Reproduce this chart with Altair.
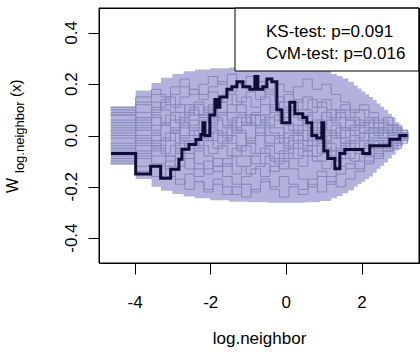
import altair as alt
import pandas as pd

# ---- envelope of the simulated processes (step function) ----
BAND_X = [-4.63, -3.97, -3.55, -3.3, -3.0, -2.7, -2.4, -2.0, -1.5, -1.0, -0.5, 0.0,
          0.5, 0.9, 1.2, 1.35, 1.5, 1.65, 1.8, 1.9, 2.0, 2.1, 2.2, 2.3, 2.4, 2.5,
          2.6, 2.7, 2.8, 2.9, 3.0, 3.1, 3.22]
BAND_HI = [0.113, 0.175, 0.205, 0.225, 0.24, 0.25, 0.257, 0.262, 0.265, 0.266, 0.266, 0.266,
           0.262, 0.252, 0.24, 0.232, 0.222, 0.21, 0.195, 0.183, 0.172, 0.161, 0.15, 0.138, 0.125, 0.112,
           0.10, 0.085, 0.07, 0.052, 0.035, 0.015, 0.0]
BAND_LO = [-0.113, -0.17, -0.20, -0.215, -0.228, -0.238, -0.245, -0.252, -0.258, -0.26, -0.262, -0.262,
           -0.26, -0.255, -0.245, -0.236, -0.225, -0.213, -0.20, -0.19, -0.18, -0.17, -0.16, -0.145, -0.13, -0.118,
           -0.105, -0.09, -0.075, -0.058, -0.04, -0.02, 0.0]

# ---- simulated cumulative residual processes (two jump grids) ----
SIM_X_A = [-4.63, -3.97, -3.55, -3.3, -3.05, -2.8, -2.55, -2.3, -2.05, -1.8, -1.55, -1.3,
           -1.05, -0.8, -0.55, -0.3, -0.05, 0.2, 0.45, 0.7, 0.95, 1.2, 1.45, 1.7, 1.95,
           2.2, 2.45, 2.7, 2.95, 3.22]
SIM_X_B = [-4.63, -3.97, -3.55, -3.18, -2.92, -2.67, -2.42, -2.17, -1.92, -1.67, -1.42, -1.17,
           -0.92, -0.67, -0.42, -0.17, 0.08, 0.33, 0.58, 0.83, 1.08, 1.33, 1.58, 1.83, 2.08,
           2.33, 2.58, 2.83, 3.05, 3.22]
SIM_PATHS = [
    [0.08, 0.12, 0.10, 0.14, 0.11, 0.15, 0.18, 0.16, 0.19, 0.21, 0.17, 0.20, 0.23, 0.19, 0.16, 0.20, 0.17, 0.13, 0.15, 0.11, 0.14, 0.10, 0.12, 0.09, 0.10, 0.07, 0.05, 0.04, 0.02, 0.0],
    [-0.09, -0.14, -0.12, -0.16, -0.19, -0.15, -0.18, -0.21, -0.17, -0.20, -0.23, -0.19, -0.22, -0.18, -0.20, -0.16, -0.19, -0.21, -0.17, -0.14, -0.16, -0.12, -0.13, -0.10, -0.08, -0.09, -0.06, -0.04, -0.02, 0.0],
    [0.03, 0.06, 0.02, 0.05, 0.09, 0.06, 0.10, 0.07, 0.04, 0.08, 0.12, 0.09, 0.05, 0.08, 0.03, 0.06, 0.10, 0.07, 0.02, 0.05, 0.01, 0.04, -0.01, 0.02, 0.05, 0.03, 0.01, 0.02, 0.01, 0.0],
    [-0.03, -0.01, -0.05, -0.02, -0.06, -0.09, -0.05, -0.08, -0.12, -0.09, -0.05, -0.08, -0.11, -0.07, -0.10, -0.13, -0.09, -0.12, -0.08, -0.10, -0.06, -0.09, -0.05, -0.07, -0.04, -0.06, -0.03, -0.02, -0.01, 0.0],
    [0.06, 0.03, 0.07, 0.04, 0.01, 0.05, 0.02, -0.02, 0.01, -0.03, 0.00, -0.04, -0.01, 0.03, 0.00, -0.03, 0.01, 0.04, 0.08, 0.05, 0.09, 0.06, 0.10, 0.07, 0.04, 0.06, 0.03, 0.01, 0.00, 0.0],
    [-0.06, -0.09, -0.06, -0.10, -0.07, -0.03, -0.06, -0.02, 0.02, -0.01, 0.03, 0.07, 0.04, 0.08, 0.12, 0.09, 0.13, 0.10, 0.14, 0.11, 0.07, 0.10, 0.06, 0.04, 0.06, 0.03, 0.04, 0.02, 0.01, 0.0],
    [0.10, 0.15, 0.18, 0.15, 0.19, 0.22, 0.18, 0.14, 0.17, 0.13, 0.09, 0.12, 0.08, 0.04, 0.07, 0.03, -0.01, 0.02, -0.02, 0.01, -0.03, 0.00, -0.04, -0.02, 0.01, -0.01, 0.01, 0.00, -0.01, 0.0],
    [-0.11, -0.07, -0.11, -0.08, -0.12, -0.09, -0.13, -0.10, -0.14, -0.11, -0.15, -0.12, -0.08, -0.05, -0.09, -0.06, -0.02, -0.05, -0.01, -0.04, -0.08, -0.05, -0.09, -0.06, -0.08, -0.05, -0.06, -0.03, -0.02, 0.0],
    [0.01, -0.03, 0.01, -0.02, 0.02, -0.01, 0.03, 0.06, 0.10, 0.13, 0.16, 0.13, 0.17, 0.14, 0.18, 0.15, 0.11, 0.14, 0.10, 0.06, 0.09, 0.05, 0.02, 0.04, 0.01, 0.03, 0.02, 0.01, 0.00, 0.0],
    [-0.05, -0.02, -0.08, -0.12, -0.09, -0.13, -0.16, -0.13, -0.09, -0.12, -0.08, -0.04, -0.07, -0.11, -0.14, -0.10, -0.13, -0.17, -0.20, -0.16, -0.19, -0.15, -0.11, -0.13, -0.10, -0.07, -0.05, -0.03, -0.01, 0.0],
    [0.05, 0.09, 0.13, 0.10, 0.06, 0.03, 0.06, 0.02, -0.02, 0.01, -0.03, -0.06, -0.03, -0.07, -0.04, 0.00, 0.04, 0.01, 0.05, 0.02, -0.02, 0.01, -0.03, 0.00, -0.02, 0.01, -0.01, 0.01, 0.00, 0.0],
    [-0.01, 0.02, -0.02, 0.01, -0.03, -0.07, -0.11, -0.15, -0.12, -0.16, -0.19, -0.16, -0.13, -0.16, -0.12, -0.09, -0.05, -0.08, -0.04, -0.07, -0.03, -0.06, -0.02, -0.05, -0.03, -0.02, -0.04, -0.02, -0.01, 0.0],
    [0.08, 0.05, 0.09, 0.13, 0.16, 0.19, 0.16, 0.20, 0.23, 0.20, 0.24, 0.21, 0.18, 0.21, 0.17, 0.13, 0.16, 0.19, 0.22, 0.18, 0.20, 0.16, 0.13, 0.10, 0.12, 0.09, 0.06, 0.04, 0.02, 0.0],
    [-0.08, -0.12, -0.16, -0.13, -0.17, -0.21, -0.18, -0.22, -0.19, -0.23, -0.20, -0.24, -0.21, -0.17, -0.21, -0.24, -0.20, -0.23, -0.19, -0.22, -0.18, -0.20, -0.17, -0.14, -0.11, -0.08, -0.06, -0.05, -0.03, 0.0],
    [0.00, 0.04, 0.08, 0.05, 0.02, -0.02, -0.05, -0.01, 0.03, 0.00, 0.04, 0.01, -0.03, 0.00, 0.04, 0.08, 0.05, 0.01, -0.02, 0.01, -0.03, -0.06, -0.03, -0.05, -0.02, -0.04, -0.02, -0.01, 0.00, 0.0],
    [0.11, 0.07, 0.04, 0.08, 0.05, 0.09, 0.13, 0.10, 0.06, 0.03, 0.07, 0.04, 0.08, 0.12, 0.09, 0.05, 0.02, -0.02, 0.01, -0.03, 0.00, 0.03, 0.06, 0.03, 0.05, 0.02, 0.03, 0.01, 0.01, 0.0],
    [-0.10, -0.06, -0.03, -0.07, -0.04, 0.00, 0.04, 0.08, 0.05, 0.09, 0.06, 0.02, -0.02, 0.01, -0.03, -0.07, -0.04, 0.00, -0.04, -0.08, -0.05, -0.09, -0.06, -0.03, -0.05, -0.02, -0.04, -0.02, -0.01, 0.0],
    [0.04, 0.00, -0.04, -0.08, -0.05, -0.02, 0.02, -0.01, -0.05, -0.02, 0.02, 0.05, 0.09, 0.06, 0.10, 0.13, 0.10, 0.06, 0.09, 0.13, 0.10, 0.07, 0.03, 0.06, 0.03, 0.05, 0.02, 0.03, 0.01, 0.0],
    [-0.04, -0.08, -0.04, -0.01, 0.03, 0.07, 0.11, 0.08, 0.12, 0.09, 0.05, 0.08, 0.04, 0.00, -0.04, -0.01, -0.05, -0.09, -0.06, -0.10, -0.13, -0.10, -0.07, -0.10, -0.07, -0.05, -0.03, -0.04, -0.02, 0.0],
    [0.02, 0.07, 0.11, 0.15, 0.12, 0.08, 0.12, 0.09, 0.13, 0.16, 0.12, 0.15, 0.11, 0.15, 0.11, 0.07, 0.10, 0.06, 0.03, 0.06, 0.02, -0.01, 0.02, -0.01, 0.02, 0.00, 0.02, 0.00, 0.00, 0.0],
    [-0.07, -0.04, 0.00, 0.04, 0.01, 0.04, 0.00, -0.04, -0.07, -0.04, -0.08, -0.12, -0.15, -0.12, -0.08, -0.11, -0.07, -0.03, -0.06, -0.02, 0.02, -0.01, 0.03, 0.00, -0.02, 0.01, -0.01, 0.00, -0.01, 0.0],
    [0.09, 0.13, 0.16, 0.12, 0.09, 0.12, 0.08, 0.11, 0.07, 0.04, 0.01, 0.04, 0.08, 0.05, 0.01, -0.03, 0.00, 0.04, 0.00, 0.03, 0.06, 0.09, 0.07, 0.10, 0.07, 0.05, 0.07, 0.04, 0.02, 0.0],
]

# ---- observed cumulative residual process ----
OBS_X = [-4.62, -3.97, -3.575, -3.31, -3.046, -2.827, -2.748, -2.563, -2.378, -2.246, -2.193,
         -2.14, -2.008, -1.876, -1.797, -1.744, -1.559, -1.427, -1.295, -1.136, -0.951, -0.819,
         -0.74, -0.608, -0.502, -0.37, -0.238, -0.106, 0.106, 0.238, 0.449, 0.555, 0.687,
         0.819, 0.951, 1.004, 1.11, 1.295, 1.427, 1.559, 2.034, 2.219, 2.483, 2.748, 3.012, 3.22]
OBS_Y = [-0.07, -0.15, -0.12, -0.167, -0.132, -0.093, -0.054, -0.035, -0.016, 0.004, 0.05,
         0.0, 0.08, 0.14, 0.11, 0.15, 0.18, 0.19, 0.21, 0.19, 0.18, 0.23,
         0.18, 0.19, 0.22, 0.21, 0.10, 0.05, 0.13, 0.085, 0.07, 0.05, 0.0,
         -0.01, 0.05, -0.06, -0.09, -0.13, -0.07, -0.055, -0.07, -0.04, -0.04, -0.015, 0.0, 0.0]

X_TICKS = [-4, -2, 0, 2]
Y_TICKS = [-0.4, -0.2, 0.0, 0.2, 0.4]
Y_TICK_TEXT = ["-0.4", "-0.2", "0.0", "0.2", "0.4"]
LEGEND_LINES = ["KS-test: p=0.091", "CvM-test: p=0.016"]

FONT = "Liberation Sans"
W, H = 320, 255

band_df = pd.DataFrame({"x": BAND_X, "hi": BAND_HI, "lo": BAND_LO})
sim_rows = []
for i, path in enumerate(SIM_PATHS):
    grid = SIM_X_A if i % 2 == 0 else SIM_X_B
    for xv, yv in zip(grid, path):
        sim_rows.append({"x": xv, "y": yv, "sim": i})
sim_df = pd.DataFrame(sim_rows)
obs_df = pd.DataFrame({"x": OBS_X, "y": OBS_Y})

xscale = alt.Scale(domain=[-4.94, 3.52], nice=False, zero=False)
yscale = alt.Scale(domain=[-0.497, 0.497], nice=False, zero=False)

xaxis = alt.Axis(values=X_TICKS, title="log.neighbor", grid=False, domain=False,
                 tickSize=11, tickColor="black", labelColor="black",
                 labelFont=FONT, labelFontSize=17, labelBaseline="alphabetic",
                 labelPadding=33, labelExpr="toString(datum.value)",
                 titleFont=FONT, titleFontSize=17, titleFontWeight="normal",
                 titleColor="black", titleBaseline="alphabetic", titleY=80)
# y ticks from the axis; its labels are drawn below as rotated text on the same scale
yaxis = alt.Axis(values=Y_TICKS, title=None, grid=False, domain=False,
                 tickSize=11, tickColor="black", labels=False)

band = alt.Chart(band_df).mark_area(interpolate="step-after", color="#b2b2dc").encode(
    x=alt.X("x:Q", scale=xscale, axis=xaxis),
    y=alt.Y("hi:Q", scale=yscale, axis=yaxis),
    y2="lo:Q",
)

sims = alt.Chart(sim_df).mark_line(interpolate="step-after", strokeWidth=1,
                                   color="#8888bd").encode(
    x=alt.X("x:Q", scale=xscale, axis=xaxis),
    y=alt.Y("y:Q", scale=yscale, axis=yaxis),
    detail="sim:N",
)

obs = alt.Chart(obs_df).mark_line(interpolate="step-after", strokeWidth=3,
                                  color="#0e0e38").encode(
    x=alt.X("x:Q", scale=xscale, axis=xaxis),
    y=alt.Y("y:Q", scale=yscale, axis=yaxis),
)

ylabels = alt.Chart(pd.DataFrame({"v": Y_TICKS, "t": Y_TICK_TEXT})).mark_text(
    font=FONT, fontSize=17, angle=270, align="center", baseline="alphabetic",
    color="black"
).encode(x=alt.value(-22), y=alt.Y("v:Q", scale=yscale, axis=yaxis), text="t:N")

# legend box in the upper right corner
legend_box = alt.Chart(pd.DataFrame({"a": [0]})).mark_rect(
    fill="white", stroke="black", strokeWidth=1
).encode(x=alt.value(136), x2=alt.value(W), y=alt.value(0), y2=alt.value(63))

legend_text = alt.Chart(pd.DataFrame({"t": LEGEND_LINES, "yy": [29, 51]})).mark_text(
    font=FONT, fontSize=17, align="left", baseline="alphabetic", color="black"
).encode(x=alt.value(167), y=alt.Y("yy:Q", scale=None), text="t:N")

# plot frame
frame = alt.Chart(pd.DataFrame({"a": [0]})).mark_rect(
    filled=False, stroke="black", strokeWidth=1
).encode(x=alt.value(0), x2=alt.value(W), y=alt.value(0), y2=alt.value(H))

# y-axis title W_{log.neighbor}(x), drawn in pieces for the subscript
ytitle_df = pd.DataFrame({
    "t": ["W", "log.neighbor", "(x)"],
    "px": [-81, -75, -78],
    "py": [185, 165, 89],
})
ytitle_w = alt.Chart(ytitle_df.iloc[[0]]).mark_text(
    font=FONT, fontSize=16, angle=270, align="left", baseline="alphabetic", color="black"
).encode(x=alt.X("px:Q", scale=None), y=alt.Y("py:Q", scale=None), text="t:N")
ytitle_sub = alt.Chart(ytitle_df.iloc[[1]]).mark_text(
    font=FONT, fontSize=13, angle=270, align="left", baseline="alphabetic", color="black"
).encode(x=alt.X("px:Q", scale=None), y=alt.Y("py:Q", scale=None), text="t:N")
ytitle_x = alt.Chart(ytitle_df.iloc[[2]]).mark_text(
    font=FONT, fontSize=15, angle=270, align="left", baseline="alphabetic", color="black"
).encode(x=alt.X("px:Q", scale=None), y=alt.Y("py:Q", scale=None), text="t:N")

chart = alt.layer(band, sims, obs, ylabels, legend_box, legend_text, frame,
                  ytitle_w, ytitle_sub, ytitle_x).properties(
    width=W, height=H,
    padding={"left": 99, "top": 8, "right": 1, "bottom": 97},
    autosize=alt.AutoSizeParams(type="none"),
    background="white",
).configure_view(stroke="black", strokeWidth=1)

chart.save("out.html", embed_options={"renderer": "svg", "actions": False})
